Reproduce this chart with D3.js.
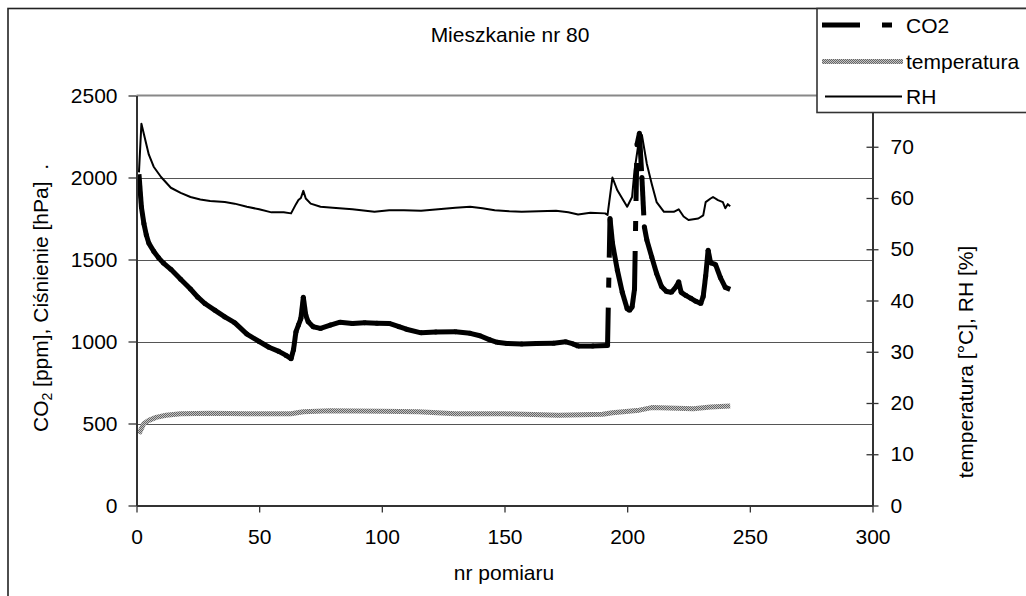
<!DOCTYPE html>
<html><head><meta charset="utf-8">
<script src="https://cdn.jsdelivr.net/npm/d3@7"></script>
<style>
html,body{margin:0;padding:0;background:#fff;}
svg{display:block;font-family:"Liberation Sans",Arial,sans-serif;}
</style></head><body>
<svg id="chart" width="1026" height="596"></svg>
<script>
const chartTitle = "Mieszkanie nr 80";
const xTitle = "nr pomiaru";
const rightTitle = "temperatura [°C], RH [%]";
const xTicks = [0, 50, 100, 150, 200, 250, 300];
const leftTicks = [0, 500, 1000, 1500, 2000, 2500];
const rightTicks = [0, 10, 20, 30, 40, 50, 60, 70];
const gridValues = [500, 1000, 1500, 2000];
const seriesNames = ["CO2", "temperatura", "RH"];

// CO2 [ppm] (left axis)
const co2 = [
  [1,2020],[2,1820],[3,1720],[4,1650],[5,1600],[7,1550],[9,1510],[11,1478],[14,1440],
  [18,1380],[22,1320],[25,1270],[28,1230],[32,1190],[36,1150],[40,1115],[45,1045],
  [50,1000],[54,965],[58,940],[61,915],[63,895],[64,950],[65,1060],[66,1100],[67,1140],
  [68,1270],[69,1160],[70,1120],[72,1090],[75,1080],[79,1100],[83,1118],[88,1110],
  [93,1114],[98,1112],[103,1110],[107,1090],[110,1075],[116,1053],[122,1058],[130,1060],
  [136,1050],[140,1035],[144,1010],[147,995],[151,988],[157,985],[163,988],[170,990],
  [175,998],[178,985],[180,972],[186,972],[192,975],[193,1750],[194,1600],[196,1435],
  [198,1300],[200,1200],[201,1190],[202,1210],[203,1320],[204,2200],[205,2270],[206,2000],
  [207,1700],[208,1620],[210,1516],[212,1415],[214,1335],[216,1305],[218,1300],[220,1335],
  [221,1364],[222,1300],[224,1280],[226,1263],[228,1245],[230,1232],[231,1275],[232,1400],
  [233,1557],[234,1480],[236,1470],[238,1390],[240,1330],[242,1318]
];
// temperatura [°C] (right axis)
const temperatura = [
  [1,14.0],[2,15.0],[3,16.0],[5,16.6],[8,17.2],[12,17.6],[18,17.9],[30,18.0],[45,17.9],
  [63,17.9],[68,18.3],[79,18.5],[100,18.4],[115,18.3],[130,17.9],[150,17.9],[172,17.6],
  [190,17.8],[194,18.1],[205,18.6],[210,19.1],[227,18.9],[234,19.2],[242,19.4]
];
// RH [%] (right axis)
const rh = [
  [1,65],[2,74.5],[3,72.5],[4,70.5],[5,68.5],[7,66.1],[10,64.1],[14,62.0],[18,61.0],
  [22,60.2],[26,59.7],[30,59.4],[36,59.2],[40,58.9],[45,58.3],[50,57.8],[55,57.2],
  [60,57.2],[63,57.0],[65,58.8],[66,59.6],[67,60.0],[68,61.4],[69,59.9],[71,58.9],
  [75,58.3],[80,58.1],[88,57.8],[97,57.3],[103,57.6],[109,57.6],[116,57.5],[123,57.8],
  [130,58.1],[136,58.3],[141,58.0],[146,57.6],[152,57.4],[157,57.3],[164,57.4],[171,57.5],
  [176,57.2],[180,56.8],[185,57.1],[191,57.0],[192,56.7],[194,64.0],[196,61.5],[198,59.9],
  [200,58.3],[202,60.2],[203,65.4],[205,71.9],[206,72.3],[208,66.7],[210,62.8],[212,59.2],
  [215,57.3],[219,57.3],[221,57.8],[223,56.4],[225,55.7],[229,56.0],[231,56.6],[232,59.2],
  [234,59.9],[235,60.2],[237,59.6],[239,59.2],[240,58.0],[241,58.8],[242,58.4]
];

const svg = d3.select("#chart");
const FS = 21;
const x = d3.scaleLinear().domain([0, 300]).range([136.5, 872.5]);
const yL = d3.scaleLinear().domain([0, 2500]).range([505.5, 95.5]);
const yR = d3.scaleLinear().domain([0, 80]).range([505.5, 95.5]);
const fmt = d3.format("d");

const defs = svg.append("defs");
const pat = defs.append("pattern").attr("id", "chk").attr("width", 2).attr("height", 2)
  .attr("patternUnits", "userSpaceOnUse");
pat.append("rect").attr("width", 2).attr("height", 2).attr("fill", "#c4c4c4");
pat.append("rect").attr("width", 1).attr("height", 1).attr("fill", "#666");
pat.append("rect").attr("x", 1).attr("y", 1).attr("width", 1).attr("height", 1).attr("fill", "#666");

svg.append("rect").attr("width", 1026).attr("height", 596).attr("fill", "#fff");
// outer chart frame
svg.append("rect").attr("x", 8).attr("y", 8.5).attr("width", 1100).attr("height", 700)
  .attr("fill", "none").attr("stroke", "#222").attr("stroke-width", 1.6);

// title
svg.append("text").attr("x", 510).attr("y", 42).attr("text-anchor", "middle")
  .attr("font-size", FS).text(chartTitle);

// gridlines
svg.append("g").selectAll("line").data(gridValues).join("line")
  .attr("x1", x(0)).attr("x2", x(300))
  .attr("y1", d => Math.round(yL(d)) + 0.5).attr("y2", d => Math.round(yL(d)) + 0.5)
  .attr("stroke", "#555").attr("stroke-width", 1);
// plot area top border
svg.append("line").attr("x1", x(0)).attr("x2", x(300)).attr("y1", yL(2500)).attr("y2", yL(2500))
  .attr("stroke", "#888").attr("stroke-width", 2);

// series: temperature
const lineR = d3.line().x(d => x(d[0])).y(d => yR(d[1]));
svg.append("path").datum(temperatura).attr("d", lineR).attr("fill", "none")
  .attr("stroke", "url(#chk)").attr("stroke-width", 5).attr("stroke-linejoin", "round");
// RH
svg.append("path").datum(rh).attr("d", lineR).attr("fill", "none")
  .attr("stroke", "#000").attr("stroke-width", 2).attr("stroke-linejoin", "round");
// CO2: dash pattern restarts at each segment
const co2Pts = co2.map(d => [x(d[0]), yL(d[1])]);
const gCo2 = svg.append("g");
gCo2.selectAll("line").data(d3.pairs(co2Pts)).join("line")
  .attr("x1", d => d[0][0]).attr("y1", d => d[0][1])
  .attr("x2", d => d[1][0]).attr("y2", d => d[1][1])
  .attr("stroke", "#000").attr("stroke-width", 5).attr("stroke-dasharray", "38,20,10,20");
gCo2.selectAll("circle").data(co2Pts.slice(1, -1)).join("circle")
  .attr("cx", d => d[0]).attr("cy", d => d[1]).attr("r", 2.5).attr("fill", "#000");

// axes
function styleAxis(g) {
  g.selectAll(".domain").attr("stroke", "#333").attr("stroke-width", 2);
  g.selectAll(".tick line").attr("stroke", "#333").attr("stroke-width", 1.3);
  g.selectAll("text").attr("font-size", FS).attr("fill", "#000")
    .attr("font-family", "'Liberation Sans', Arial, sans-serif");
}
svg.append("g").attr("transform", `translate(${x(0)},0)`)
  .call(d3.axisLeft(yL).tickValues(leftTicks).tickFormat(fmt).tickSize(8).tickSizeOuter(0).tickPadding(11))
  .call(styleAxis);
svg.append("g").attr("transform", `translate(0,${yL(0)})`)
  .call(d3.axisBottom(x).tickValues(xTicks).tickFormat(fmt).tickSize(7).tickSizeOuter(0).tickPadding(17))
  .call(styleAxis);
const gR = svg.append("g").attr("transform", `translate(${x(300)},0)`)
  .call(d3.axisRight(yR).tickValues(rightTicks).tickFormat(fmt).tickSize(6).tickSizeOuter(0).tickPadding(12))
  .call(styleAxis);
gR.selectAll(".tick line").attr("x1", -6);

// axis titles
const lt = svg.append("text").attr("transform", "translate(48,298) rotate(-90)")
  .attr("text-anchor", "middle").attr("font-size", FS).style("white-space", "pre");
lt.append("tspan").text("CO");
lt.append("tspan").attr("font-size", 14).attr("dy", 4).text("2");
lt.append("tspan").attr("dy", -4).text(" [ppm], Ciśnienie [hPa]  .");
svg.append("text").attr("transform", "translate(973,362) rotate(-90)")
  .attr("text-anchor", "middle").attr("font-size", FS).text(rightTitle);
svg.append("text").attr("x", 504).attr("y", 580).attr("text-anchor", "middle")
  .attr("font-size", FS).text(xTitle);

// legend
const lg = svg.append("g");
lg.append("rect").attr("x", 817).attr("y", 8.5).attr("width", 250).attr("height", 104)
  .attr("fill", "#fff").attr("stroke", "#333").attr("stroke-width", 1.6);
const legendY = [25, 61.5, 96.5];
lg.append("line").attr("x1", 822).attr("x2", 892).attr("y1", legendY[0]).attr("y2", legendY[0])
  .attr("stroke", "#000").attr("stroke-width", 5).attr("stroke-dasharray", "38,22,10");
lg.append("line").attr("x1", 822).attr("x2", 903).attr("y1", legendY[1]).attr("y2", legendY[1])
  .attr("stroke", "url(#chk)").attr("stroke-width", 5);
lg.append("line").attr("x1", 825).attr("x2", 902).attr("y1", legendY[2]).attr("y2", legendY[2])
  .attr("stroke", "#000").attr("stroke-width", 2);
lg.selectAll("text").data(seriesNames).join("text")
  .attr("x", 906).attr("y", (d, i) => legendY[i] + 7.5)
  .attr("font-size", FS).text(d => d);
</script>
</body></html>
